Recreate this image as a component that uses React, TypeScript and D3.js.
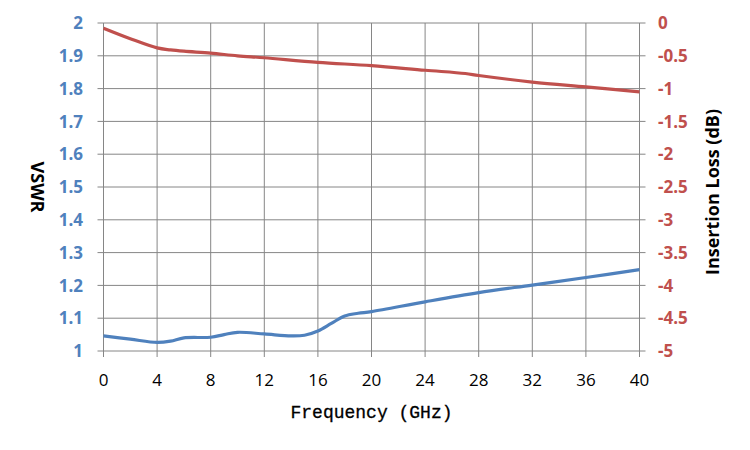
import * as d3 from "d3";
import { useEffect } from "react";

// VSWR and insertion loss vs frequency, dual y axes.
const freqTicks = [0, 4, 8, 12, 16, 20, 24, 28, 32, 36, 40];
const vswrTicks = [1, 1.1, 1.2, 1.3, 1.4, 1.5, 1.6, 1.7, 1.8, 1.9, 2];
const lossTicks = [0, -0.5, -1, -1.5, -2, -2.5, -3, -3.5, -4, -4.5, -5];

const vswrFreq = [0, 2, 4, 5, 6, 8, 9, 10, 12, 14, 15, 16, 17, 18, 19, 20, 24, 28, 32, 36, 40];
const vswrVals = [
  1.046, 1.036, 1.026, 1.03, 1.04, 1.042, 1.05, 1.057, 1.052, 1.046, 1.048, 1.061, 1.084, 1.107,
  1.115, 1.12, 1.15, 1.178, 1.201, 1.224, 1.248,
];

const lossFreq = [0, 2, 4, 5, 6, 8, 10, 12, 16, 20, 24, 27, 28, 32, 36, 40];
const lossVals = [
  -0.08, -0.24, -0.38, -0.41, -0.43, -0.46, -0.5, -0.53, -0.6, -0.65, -0.72, -0.77, -0.8, -0.9,
  -0.975, -1.05,
];

const W = 750;
const H = 450;
const plot = { left: 103.5, right: 639.5, top: 23, bottom: 351 };

const BLUE = "#4F81BD";
const RED = "#C0504D";
const GRID = "#868686";
const SANS = "'Open Sans', 'DejaVu Sans', sans-serif";

export default function App() {
  useEffect(() => {
    document.body.style.margin = "0";
  }, []);

  const x = d3.scaleLinear().domain([0, 40]).range([plot.left, plot.right]);
  const yL = d3.scaleLinear().domain([1, 2]).range([plot.bottom, plot.top]);
  const yR = d3.scaleLinear().domain([-5, 0]).range([plot.bottom, plot.top]);

  // Excel-style smoothed lines
  const vswrLine = d3
    .line<number>()
    .x((_, i) => x(vswrFreq[i]))
    .y((d) => yL(d))
    .curve(d3.curveCatmullRom.alpha(0.5));
  const lossLine = d3
    .line<number>()
    .x((_, i) => x(lossFreq[i]))
    .y((d) => yR(d))
    .curve(d3.curveCatmullRom.alpha(0.5));

  return (
    <svg width={W} height={H} viewBox={`0 0 ${W} ${H}`} style={{ display: "block", background: "#fff" }}>
      {/* horizontal grid + left/right ticks */}
      {vswrTicks.map((t) => (
        <line
          key={"h" + t}
          x1={plot.left - 6}
          x2={plot.right + 6}
          y1={yL(t)}
          y2={yL(t)}
          stroke={GRID}
          strokeWidth={1}
        />
      ))}
      {/* vertical grid + bottom ticks */}
      {freqTicks.map((t) => (
        <line
          key={"v" + t}
          x1={x(t)}
          x2={x(t)}
          y1={plot.top}
          y2={plot.bottom + 6}
          stroke={GRID}
          strokeWidth={1}
        />
      ))}

      <path d={lossLine(lossVals) ?? ""} fill="none" stroke={RED} strokeWidth={3.2} />
      <path d={vswrLine(vswrVals) ?? ""} fill="none" stroke={BLUE} strokeWidth={3.2} />

      {vswrTicks.map((t) => (
        <text
          key={"l" + t}
          x={83}
          y={yL(t)}
          dy="0.36em"
          textAnchor="end"
          fontFamily={SANS}
          fontWeight="bold"
          fontSize={17}
          fill={BLUE}
        >
          {d3.format("~g")(t)}
        </text>
      ))}
      {lossTicks.map((t) => (
        <text
          key={"r" + t}
          x={658}
          y={yR(t)}
          dy="0.36em"
          textAnchor="start"
          fontFamily={SANS}
          fontWeight="bold"
          fontSize={17}
          fill={RED}
        >
          {d3.format("~g")(t).replace("−", "-")}
        </text>
      ))}
      {freqTicks.map((t) => (
        <text
          key={"b" + t}
          x={x(t)}
          y={386}
          textAnchor="middle"
          fontFamily={SANS}
          fontSize={17}
          fill="#000"
        >
          {t}
        </text>
      ))}

      <text
        x={(plot.left + plot.right) / 2}
        y={418}
        textAnchor="middle"
        fontFamily="'Liberation Mono', monospace"
        fontSize={18}
        fill="#000"
        stroke="#000"
        strokeWidth={0.3}
      >
        Frequency (GHz)
      </text>
      <text
        transform={`translate(31,187) rotate(90)`}
        textAnchor="middle"
        fontFamily={SANS}
        fontWeight="bold"
        fontSize={18}
        fill="#000"
      >
        VSWR
      </text>
      <text
        transform={`translate(719,192) rotate(-90)`}
        textAnchor="middle"
        fontFamily={SANS}
        fontWeight="bold"
        fontSize={18}
        fill="#000"
      >
        Insertion Loss (dB)
      </text>
    </svg>
  );
}
